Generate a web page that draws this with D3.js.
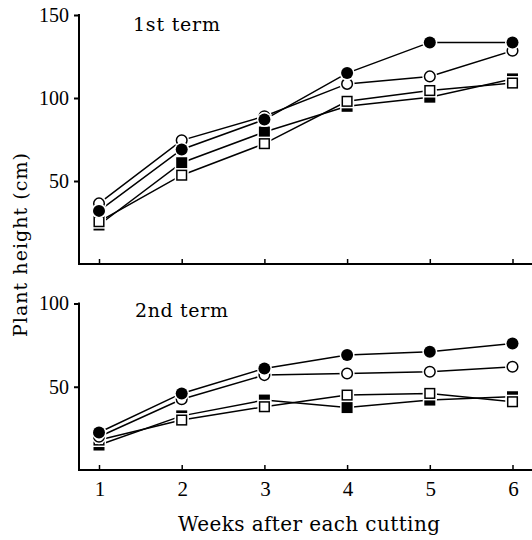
<!DOCTYPE html>
<html>
<head>
<meta charset="utf-8">
<script src="https://cdn.jsdelivr.net/npm/d3@7"></script>
<style>
html,body{margin:0;padding:0;background:#fff;}
svg{display:block;}
text{font-family:"Liberation Serif","DejaVu Serif",serif;fill:#000;}
text.lbl{font-family:"DejaVu Serif","Liberation Serif",serif;}
</style>
</head>
<body>
<svg id="chart" width="532" height="540"></svg>
<script>
const weeks = [1, 2, 3, 4, 5, 6];
const xTickLabels = ["1", "2", "3", "4", "5", "6"];
const topTicks = [50, 100, 150];
const bottomTicks = [50, 100];
const panelTitles = ["1st term", "2nd term"];

// 1st term
const t1FilledCircle = [32, 69, 87, 115, 133.5, 133.5];
const t1OpenCircle   = [36.5, 74.5, 89, 108.5, 113, 128.5];
const t1FilledSquare = [23.5, 61, 79.5, 95, 100.5, 111.5];
const t1OpenSquare   = [25.5, 53.5, 72.5, 98, 104.5, 109];

// 2nd term
const t2FilledCircle = [22.5, 46, 61, 69, 71, 76];
const t2OpenCircle   = [20, 42.5, 57, 58, 59, 62];
const t2FilledSquare = [15, 32.5, 42, 37.5, 42, 44];
const t2OpenSquare   = [18, 30, 38, 45, 46, 41];

const svg = d3.select("#chart");
const axisX0 = 79, axisX1 = 532;
const x = d3.scaleLinear().domain([1, 6]).range([99, 512.5]);

const panels = [
  {title: panelTitles[0], yMax: 150, top: 15, bottom: 264, ticks: topTicks, titleY: 31, titleX: 133, titleLen: 87,
   series: [
     {v: t1FilledSquare, shape: "square", fill: true},
     {v: t1OpenSquare, shape: "square", fill: false},
     {v: t1OpenCircle, shape: "circle", fill: false},
     {v: t1FilledCircle, shape: "circle", fill: true}
   ]},
  {title: panelTitles[1], yMax: 100, top: 303.5, bottom: 470, ticks: bottomTicks, titleY: 317, titleX: 135, titleLen: 93,
   series: [
     {v: t2FilledSquare, shape: "square", fill: true},
     {v: t2OpenSquare, shape: "square", fill: false},
     {v: t2OpenCircle, shape: "circle", fill: false},
     {v: t2FilledCircle, shape: "circle", fill: true}
   ]}
];

panels.forEach(p => {
  const y = d3.scaleLinear().domain([0, p.yMax]).range([p.bottom, p.top]);
  const g = svg.append("g");

  // y axis
  const yAxis = d3.axisLeft(y).tickValues(p.ticks).tickSize(5).tickPadding(5).tickFormat(d3.format("d"));
  const ya = g.append("g").attr("transform", `translate(${axisX0},0)`).call(yAxis);
  ya.select(".domain").remove();
  ya.selectAll(".tick line").attr("stroke", "#000").attr("stroke-width", 2);
  ya.selectAll(".tick text").style("font-size", "20px").style("font-family", '"Liberation Serif",serif');
  g.append("line").attr("x1", axisX0).attr("x2", axisX0).attr("y1", p.top - 1).attr("y2", p.bottom + 1)
    .attr("stroke", "#000").attr("stroke-width", 2);

  // x axis
  const xAxis = d3.axisBottom(x).tickValues(weeks).tickSize(-6).tickFormat("");
  const xa = g.append("g").attr("transform", `translate(0,${p.bottom + 1})`).call(xAxis);
  xa.select(".domain").remove();
  xa.selectAll(".tick line").attr("stroke", "#000").attr("stroke-width", 1.5);
  g.append("line").attr("x1", axisX0 - 1).attr("x2", axisX1).attr("y1", p.bottom).attr("y2", p.bottom)
    .attr("stroke", "#000").attr("stroke-width", 2);

  g.append("text").attr("class", "lbl").attr("x", p.titleX).attr("y", p.titleY).style("font-size", "19px")
    .attr("textLength", p.titleLen).attr("lengthAdjust", "spacing").text(p.title);

  const line = d3.line().x((d, i) => x(weeks[i])).y(d => y(d));
  p.series.forEach(s => {
    g.append("path").datum(s.v).attr("d", line).attr("fill", "none")
      .attr("stroke", "#000").attr("stroke-width", 1.5);
  });
  p.series.forEach(s => {
    const mg = g.append("g");
    s.v.forEach((d, i) => {
      const cx = x(weeks[i]), cy = y(d);
      if (s.shape === "circle") {
        mg.append("circle").attr("cx", cx).attr("cy", cy).attr("r", 7.5).attr("fill", "#fff");
        mg.append("circle").attr("cx", cx).attr("cy", cy).attr("r", s.fill ? 6 : 5.3)
          .attr("fill", s.fill ? "#000" : "#fff").attr("stroke", "#000").attr("stroke-width", s.fill ? 0 : 1.5);
      } else {
        mg.append("rect").attr("x", cx - 7).attr("y", cy - 7).attr("width", 14).attr("height", 14).attr("fill", "#fff");
        const h = s.fill ? 11 : 9.6;
        mg.append("rect").attr("x", cx - h / 2).attr("y", cy - h / 2).attr("width", h).attr("height", h)
          .attr("fill", s.fill ? "#000" : "#fff").attr("stroke", "#000").attr("stroke-width", s.fill ? 0 : 1.5);
      }
    });
  });
});

// x tick labels under the bottom panel
svg.append("g").selectAll("text").data(weeks).join("text")
  .attr("x", d => x(d) + 1).attr("y", 496).attr("text-anchor", "middle")
  .style("font-size", "21px").text((d, i) => xTickLabels[i]);

svg.append("text").attr("class", "lbl").attr("x", 178).attr("y", 531)
  .style("font-size", "20px").attr("textLength", 262).attr("lengthAdjust", "spacing")
  .text("Weeks after each cutting");

svg.append("text").attr("class", "lbl").attr("transform", "translate(27,337) rotate(-90)")
  .style("font-size", "19px").attr("textLength", 184).attr("lengthAdjust", "spacing")
  .text("Plant height (cm)");
</script>
</body>
</html>
